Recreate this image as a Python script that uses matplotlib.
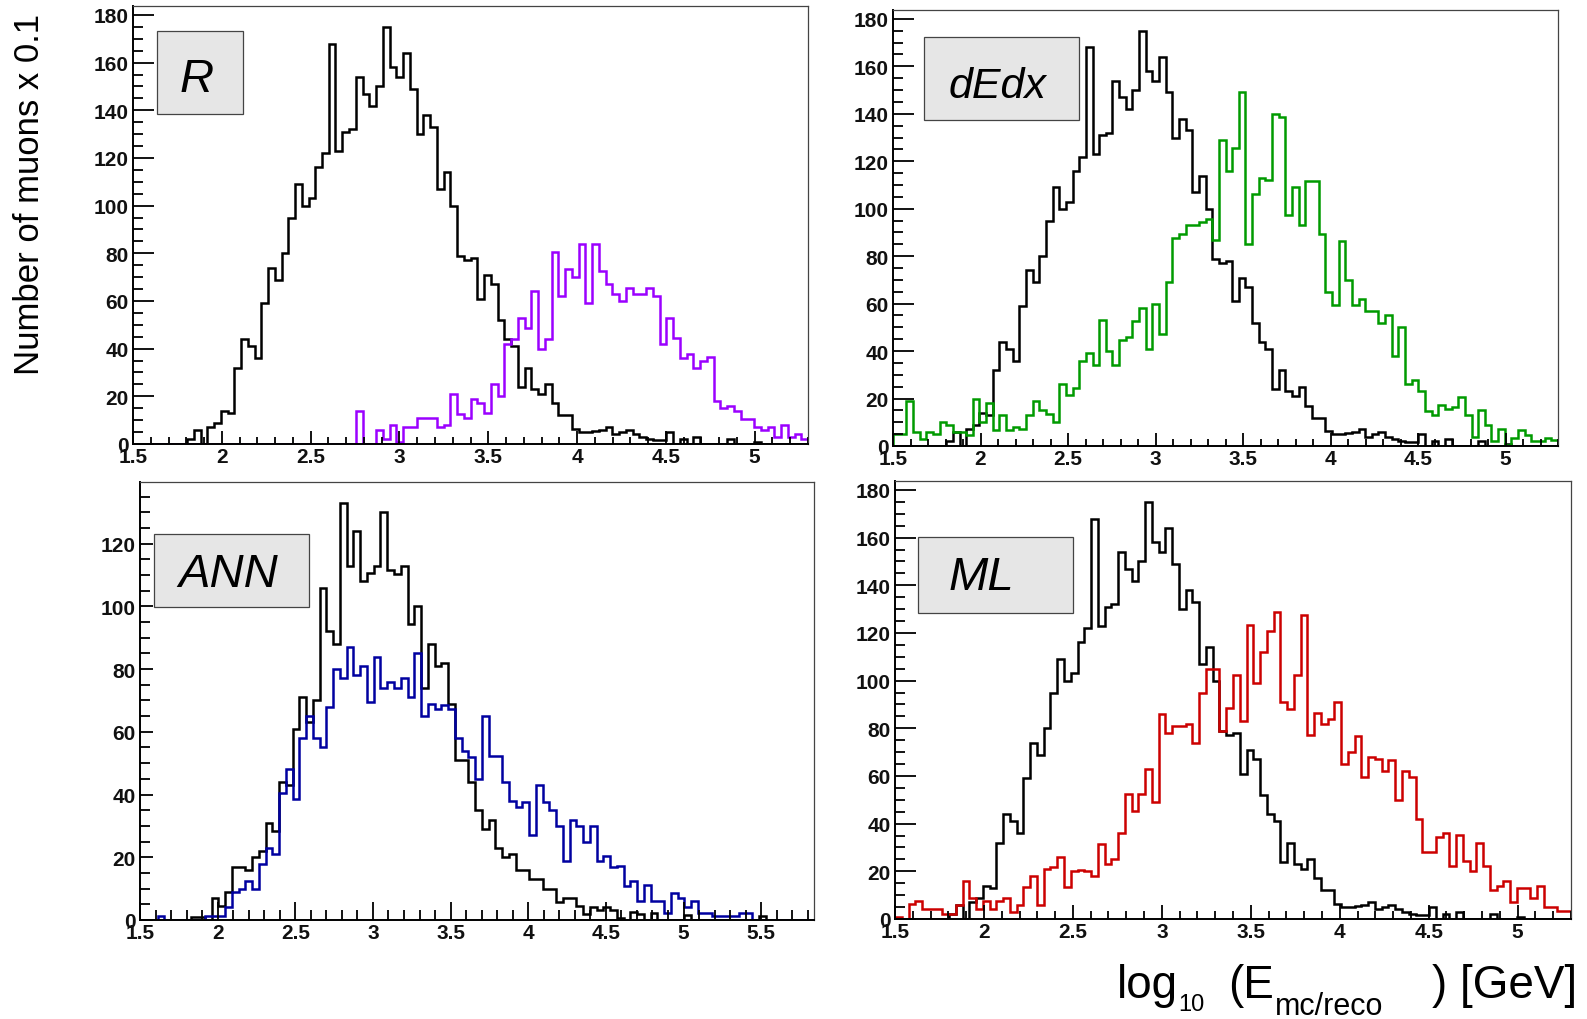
import numpy as np
import matplotlib.pyplot as plt
from matplotlib.patches import Rectangle
from matplotlib.ticker import MultipleLocator

W, H = 1587, 1020
plt.rcParams['font.family'] = ['Liberation Sans', 'DejaVu Sans']

# bin edges (ROOT histograms, 100 bins)
edges_top = np.linspace(1.5, 5.3, 101)
edges_ann = 1.526 + 0.0435 * np.arange(101)

# true (MC) energy, same sample in R / dEdx / ML panels
mc_counts = [0, 0, 0, 0, 0, 0, 0, 0, 2, 6,
             0, 7, 9, 14, 13, 32, 44, 41, 36, 59,
             74, 69, 80, 95, 109, 100, 103, 116, 122, 168,
             123, 131, 132, 154, 147, 142, 150, 175, 158, 154,
             164, 149, 130, 138, 133, 107, 114, 100, 79, 77,
             78, 61, 71, 67, 52, 44, 41, 24, 32, 23,
             21, 25, 17, 12, 12, 6.5, 5, 5, 5.5, 6,
             7, 4, 5, 6, 4, 3, 2, 1.5, 1.5, 5,
             0, 2, 0, 3, 0, 0, 0, 0, 2, 0,
             0, 0, 1, 0, 0, 0, 0, 0, 0, 0]

r_counts = [0, 0, 0, 0, 0, 0, 0, 0, 0, 0,
            0, 0, 0, 0, 0, 0, 0, 0, 0, 0,
            0, 0, 0, 0, 0, 0, 0, 0, 0, 0,
            0, 0, 0, 14, 0, 0, 6, 2, 8, 1,
            7, 7, 11, 11, 11, 7, 8, 21, 12.5, 11,
            19, 17, 13, 25, 20, 42, 44, 53, 48.5, 64,
            40, 44, 80.6, 62, 73.6, 70, 84, 59, 84, 72.5,
            67, 63, 60, 65.5, 63, 63, 65.5, 62, 42, 53,
            44.6, 36, 37.7, 32, 35, 36.5, 18, 15, 16, 14,
            10.5, 10.5, 7, 6, 7, 3, 8, 3, 4, 2]

dedx_counts = [5, 5, 19, 6, 3, 6, 5, 10, 9, 6,
               6, 4.5, 20, 10, 18, 6.6, 13, 6.6, 8, 7,
               13, 19, 15, 13.6, 10, 26, 21.6, 24.4, 36, 39,
               34, 53, 40, 34, 44.5, 46, 52.5, 58, 41, 60,
               47, 69, 87.6, 89.3, 93, 93, 94.5, 95.5, 87, 129,
               116, 125.5, 149.4, 85, 106, 113, 112, 140, 138.6, 97.5,
               109, 93, 111.5, 111.5, 89.5, 65, 59.5, 86.4, 69.8, 59.5,
               62, 57, 57, 52, 55, 38, 50, 26, 27.7, 23,
               14.6, 13, 17.4, 15.7, 16.4, 20.6, 13, 3.8, 15, 9,
               2, 7, 0.6, 3.4, 6.6, 4.8, 2, 2, 3.4, 2.7]

ml_counts = [1, 0, 6.3, 7.7, 4, 4, 4, 2, 2, 6,
             16, 9, 4.2, 7.7, 4, 7.7, 9, 2.8, 6, 13.3,
             18, 6, 21, 22, 26, 13.3, 20.3, 20.7, 20.3, 18.2,
             31.5, 23, 25, 36, 52.5, 45.5, 52.5, 63, 49, 86,
             78, 81, 81, 82, 74, 95, 105, 105, 79, 88.5,
             102.5, 83, 123.5, 99, 112, 120.7, 129, 91, 88, 102.5,
             127.5, 77, 86.6, 82, 83.8, 91, 65, 70, 76.7, 59.5,
             68, 67, 62, 66.5, 50, 62, 59.5, 42, 28, 28,
             34.3, 36, 22.4, 35.3, 24.5, 20.3, 32, 22.4, 12, 14,
             16, 7, 13, 13, 8.7, 14, 5, 5, 3.5, 3.5]

ann_mc_counts = [0, 0, 0, 0, 0, 0, 0, 1, 1, 0,
                 7, 4.5, 9, 17, 17, 16, 20, 22, 31, 28.5,
                 44, 43, 61, 71, 63, 70, 106, 92, 88, 133,
                 113, 124, 108, 110.6, 113, 130, 111.5, 110.4, 113, 94.5,
                 100, 74, 88, 81, 82, 69, 51, 51, 44, 35,
                 29, 32, 23, 20, 21, 16, 16, 13, 13, 10,
                 10, 5.7, 7, 7, 4.5, 1.8, 4.2, 3.2, 4.2, 3.2,
                 0.7, 0, 2.5, 2, 0, 2.3, 0, 0, 0, 0,
                 1.5, 0, 0, 0, 0, 0, 0, 0, 0, 0,
                 0, 1.3, 0, 0, 0, 0, 0, 0, 0, 0]

ann_counts = [0, 0, 1.3, 0, 0, 0, 0, 0, 0, 1.3,
              1.3, 1.3, 4, 9, 10, 12.4, 10, 18, 23, 21,
              40.5, 48, 38.6, 58, 65, 58, 55, 68, 80, 77,
              87, 78, 81, 69.4, 84, 74, 76, 74, 77, 71,
              85, 65, 69, 67.3, 68.4, 67.3, 58, 54, 52, 45,
              65, 52.4, 52.4, 44, 38, 36, 37.6, 27, 43, 37.6,
              35, 30, 18.8, 32, 30, 25, 30, 18.8, 20.4, 17,
              17.2, 10.8, 12.4, 6, 11, 6, 6, 2.1, 8.5, 7,
              4, 6, 2.1, 2.1, 1.3, 1.3, 1.3, 1.3, 2.3, 2.3,
              0, 0, 0, 0, 0, 0, 0, 0, 0, 0]

xlabels_top = ['1.5', '2', '2.5', '3', '3.5', '4', '4.5', '5']
xlabels_ann = ['1.5', '2', '2.5', '3', '3.5', '4', '4.5', '5', '5.5']


def fx(x):
    return x / W


def fy(y):
    return 1 - y / H


fig = plt.figure(figsize=(W / 100, H / 100), dpi=100)

panels = [
    dict(rect=(133, 7, 808, 445), edges=edges_top, mc=mc_counts, reco=r_counts,
         color='#9b00ff', xmax=5.3, ymax=183.75, ymaj=20, ylen=(15, 7.5), xlen=(9.4, 5),
         xlabels=xlabels_top, box=(157, 32, 243, 115), text='R', tx=197, ty=92, fs=34),
    dict(rect=(893, 11, 1558, 447), edges=edges_top, mc=mc_counts, reco=dedx_counts,
         color='#009a00', xmax=5.3, ymax=183.75, ymaj=20, ylen=(15, 7.5), xlen=(9.4, 5),
         xlabels=xlabels_top, box=(924, 38, 1079, 121), text='dEdx', tx=997, ty=98, fs=31),
    dict(rect=(140, 483, 814, 921), edges=edges_ann, mc=ann_mc_counts, reco=ann_counts,
         color='#0000a0', xmax=5.84, ymax=139.65, ymaj=20, ylen=(9, 7.5), xlen=(13, 7),
         xlabels=xlabels_ann, box=(154, 535, 309, 608), text='ANN', tx=228, ty=587, fs=34),
    dict(rect=(895, 482, 1571, 920), edges=edges_top, mc=mc_counts, reco=ml_counts,
         color='#cc0000', xmax=5.3, ymax=183.75, ymaj=20, ylen=(15, 7.5), xlen=(10, 5.5),
         xlabels=xlabels_top, box=(918, 538, 1073, 614), text='ML', tx=981, ty=590, fs=34),
]

for p in panels:
    l, t, r, b = p['rect']
    ax = fig.add_axes([fx(l), fy(b), (r - l) / W, (b - t) / H])
    ax.stairs(p['mc'], p['edges'], color='black', lw=1.8, baseline=0)
    ax.stairs(p['reco'], p['edges'], color=p['color'], lw=1.8, baseline=0)
    ax.set_xlim(1.5, p['xmax'])
    ax.set_ylim(0, p['ymax'])

    nx = len(p['xlabels'])
    ax.set_xticks(1.5 + 0.5 * np.arange(nx))
    ax.set_xticklabels(p['xlabels'])
    yt = np.arange(0, p['ymax'], p['ymaj'])
    ax.set_yticks(yt)
    ax.set_yticklabels([str(int(v)) for v in yt])
    ax.xaxis.set_minor_locator(MultipleLocator(0.1))
    ax.yaxis.set_minor_locator(MultipleLocator(5))

    ax.tick_params(axis='y', which='major', direction='in', length=p['ylen'][0],
                   width=1.3, pad=3, labelsize=15)
    ax.tick_params(axis='y', which='minor', direction='in', length=p['ylen'][1], width=1.3)
    ax.tick_params(axis='x', which='major', direction='in', length=p['xlen'][0],
                   width=1.3, pad=2, labelsize=15)
    ax.tick_params(axis='x', which='minor', direction='in', length=p['xlen'][1], width=1.3)
    for lab in ax.get_xticklabels() + ax.get_yticklabels():
        lab.set_fontweight('bold')
        lab.set_color('#111111')

    for side in ('top', 'right'):
        ax.spines[side].set_color('#444444')
        ax.spines[side].set_linewidth(0.9)
    for side in ('left', 'bottom'):
        ax.spines[side].set_color('black')
        ax.spines[side].set_linewidth(1.4)

    bl, bt, br, bb = p['box']
    fig.add_artist(Rectangle((fx(bl), fy(bb)), (br - bl) / W, (bb - bt) / H,
                             transform=fig.transFigure, facecolor='#e6e6e6',
                             edgecolor='#444444', lw=0.9, zorder=5))
    fig.text(fx(p['tx']), fy(p['ty']), p['text'], ha='center', va='baseline',
             style='italic', fontsize=p['fs'], zorder=6)

# axis titles
fig.text(fx(30), fy(194), 'Number of muons x 0.1', rotation=90,
         ha='center', va='center', fontsize=25)

fig.text(fx(1117), fy(998), 'log', ha='left', va='baseline', fontsize=33)
fig.text(fx(1178), fy(1011), '10', ha='left', va='baseline', fontsize=17)
fig.text(fx(1228), fy(998), '(E', ha='left', va='baseline', fontsize=33)
fig.text(fx(1275), fy(1015), 'mc/reco', ha='left', va='baseline', fontsize=22)
fig.text(fx(1432), fy(998), ') [GeV]', ha='left', va='baseline', fontsize=33)

fig.savefig('out.png', dpi=100)
